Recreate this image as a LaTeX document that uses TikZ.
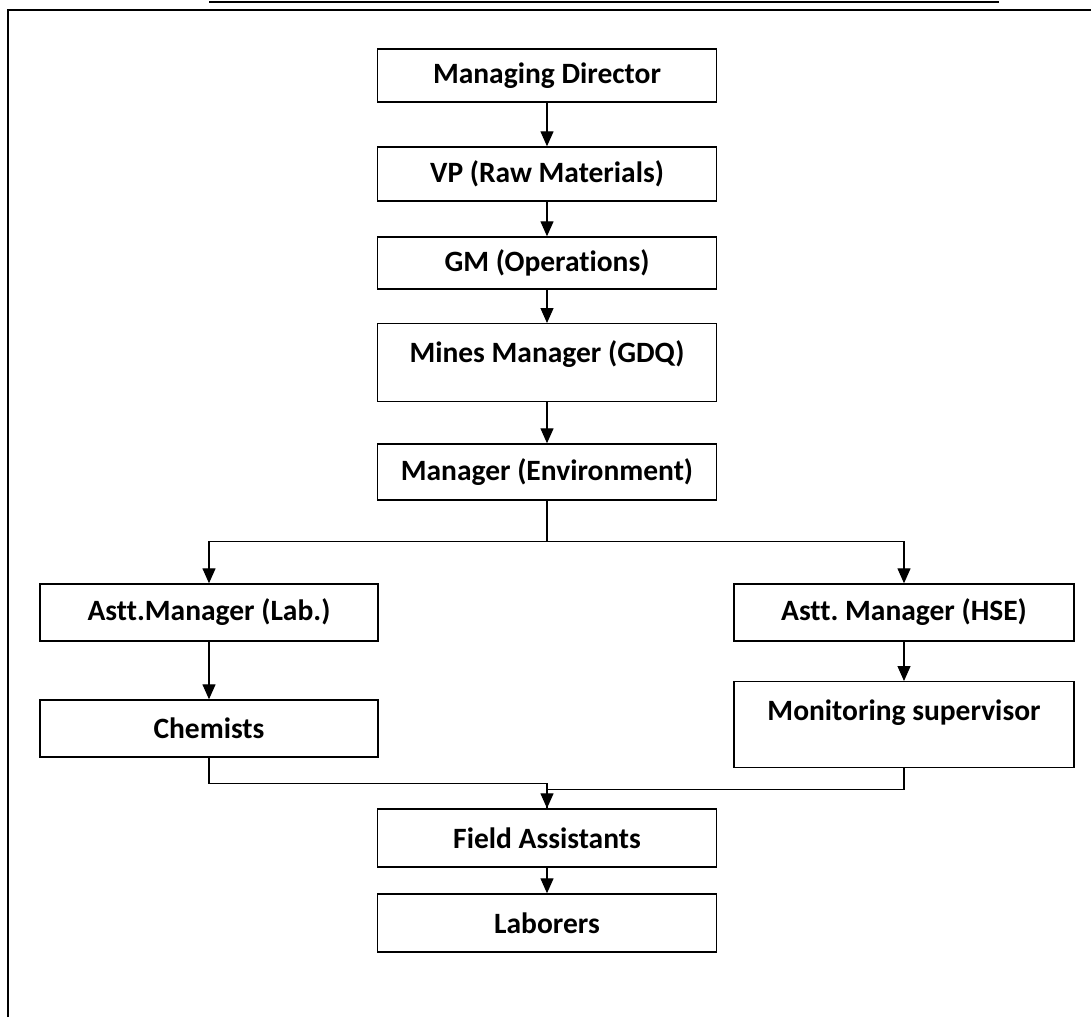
\documentclass[tikz,border=0pt]{standalone}
\usepackage{fontspec}
\setmainfont[Ligatures=NoCommon]{Carlito}
\frenchspacing
\usetikzlibrary{arrows.meta}

\begin{document}
\begin{tikzpicture}[x=1pt,y=-1pt,
            box/.style={draw,line width=1.4pt,minimum width=339pt,minimum height=54pt,
                inner sep=0pt,font=\fontsize{29.5}{35}\selectfont\bfseries},
            arr/.style={line width=1.3pt,-{Triangle[length=15pt,width=13pt]}},
            link/.style={line width=1.3pt}]
            \useasboundingbox (0,0) rectangle (1091,1017);
            \draw[line width=1.7pt] (209,2) -- (999,2);
            \draw[line width=1.7pt] (8,1017) -- (8,10) -- (1091,10);
            \node[box,minimum height=53pt] (md) at (547,75.5) {Managing Director};
            \node[box] (vp) at (547,174) {VP (Raw Materials)};
            \node[box,minimum height=52pt] (gm) at (547,263) {GM (Operations)};
            \node[box,anchor=north,text height=39pt,text depth=39pt] (mines) at (547,323) {Mines Manager (GDQ)};
            \node[box,minimum height=56pt] (env) at (547,472) {Manager (Environment)};
            \node[box,minimum width=338pt,minimum height=57pt] (lab) at (209,612.5) {Astt.Manager (Lab.)};
            \node[box,minimum width=340pt,minimum height=57pt] (hse) at (904,612.5) {Astt. Manager (HSE)};
            \node[box,minimum width=338pt,minimum height=57pt] (chem) at (209,728.5) {Chemists};
            \node[box,minimum width=340pt,anchor=north,text height=39pt,text depth=47pt] (mon) at (904,681) {Monitoring supervisor};
            \node[box,minimum height=58pt] (field) at (547,838) {Field Assistants};
            \node[box,minimum height=58pt] (labor) at (547,923) {Laborers};
            \foreach \a/\b in {md/vp,vp/gm,gm/mines,mines/env,lab/chem,hse/mon,field/labor}
                \draw[arr] (\a.south) -- (\b.north);
            \draw[arr] (env.south) -- ++(0,41) -| (lab.north);
            \draw[arr] (env.south) -- ++(0,41) -| (hse.north);
            \draw[link] (mon.south) -- ++(0,21) -| (field.north);
            \draw[arr] (chem.south) -- ++(0,26) -| (field.north);
\end{tikzpicture}
\end{document}
